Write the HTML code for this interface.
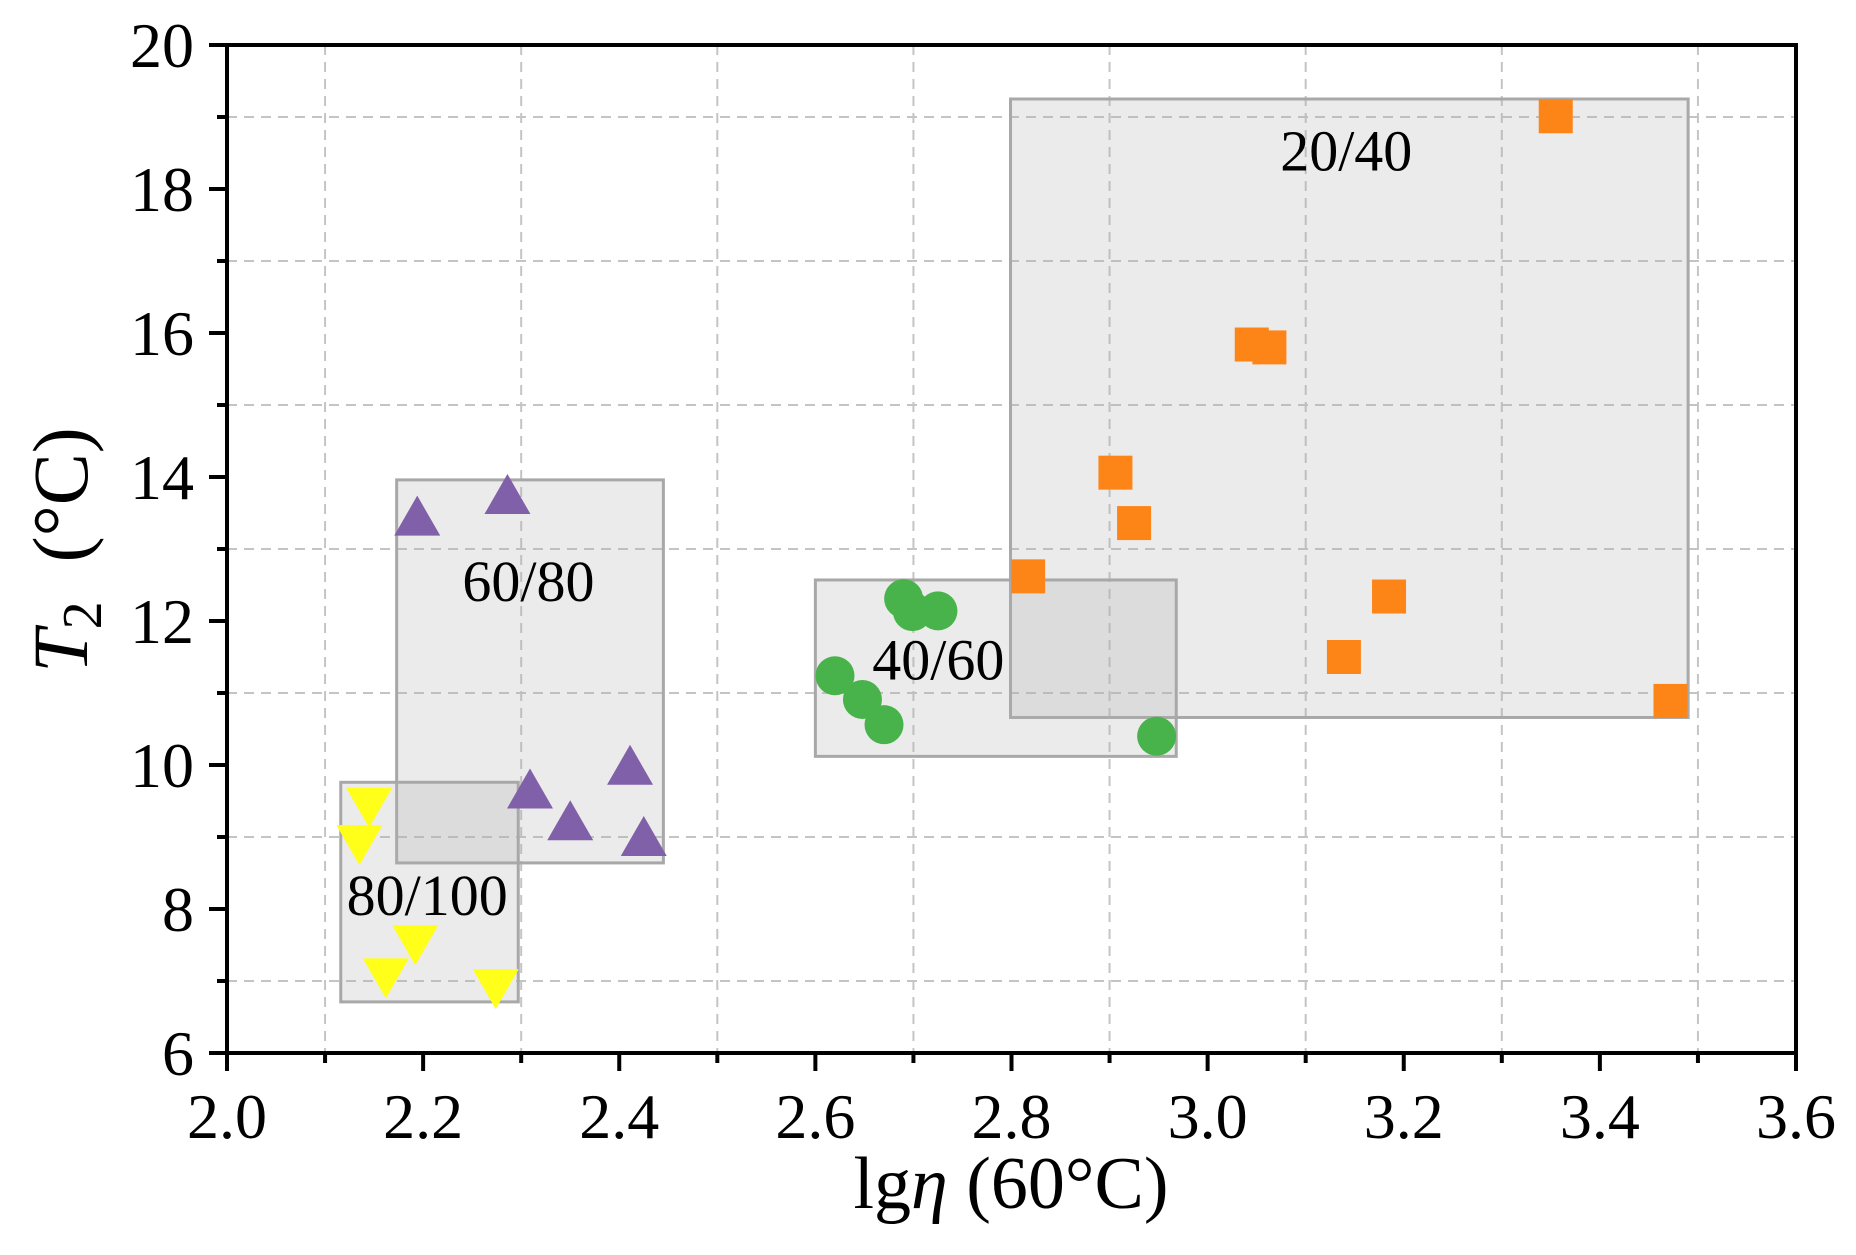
<!DOCTYPE html>
<html><head><meta charset="utf-8"><style>
html,body{margin:0;padding:0;background:#fff;}
svg, svg text{font-family:"Liberation Serif","Times New Roman",Times,serif;}
</style></head><body>
<svg id="chart" width="1856" height="1250" viewBox="0 0 1856 1250" xmlns="http://www.w3.org/2000/svg" font-family="Liberation Serif, Times New Roman, serif">
<rect x="0" y="0" width="1856" height="1250" fill="#fff"/>
<g id="grid"></g>
<g id="boxes"></g>
<g id="marks"></g>
<g id="labels"></g>
<g id="axes"></g>
<text x="1011" y="1208" font-size="74" text-anchor="middle">lg<tspan font-style="italic">η</tspan> (60°C)</text>
<text transform="translate(87,550) rotate(-90)" font-size="78" text-anchor="middle"><tspan font-style="italic">T</tspan><tspan font-size="56" dy="14">2</tspan><tspan dy="-14" xml:space="preserve">  (°C)</tspan></text>
</svg>
<script>
const xTicks = [2.0, 2.2, 2.4, 2.6, 2.8, 3.0, 3.2, 3.4, 3.6];
const xTickLabels = ["2.0","2.2","2.4","2.6","2.8","3.0","3.2","3.4","3.6"];
const yTicks = [6, 8, 10, 12, 14, 16, 18, 20];
const yTickLabels = ["6","8","10","12","14","16","18","20"];
const xGrid = [2.1, 2.3, 2.5, 2.7, 2.9, 3.1, 3.3, 3.5];
const yGrid = [7, 9, 11, 13, 15, 17, 19];

const orangeX = [2.817, 2.906, 2.925, 3.045, 3.063, 3.139, 3.185, 3.355, 3.472];
const orangeY = [12.62, 14.06, 13.36, 15.84, 15.80, 11.50, 12.34, 19.01, 10.89];
const greenX = [2.620, 2.648, 2.670, 2.690, 2.699, 2.725, 2.948];
const greenY = [11.24, 10.91, 10.56, 12.31, 12.13, 12.14, 10.40];
const purpleX = [2.194, 2.286, 2.309, 2.350, 2.411, 2.425];
const purpleY = [13.38, 13.68, 9.59, 9.15, 9.92, 8.93];
const yellowX = [2.145, 2.135, 2.192, 2.162, 2.274];
const yellowY = [9.49, 8.97, 7.58, 7.12, 6.97];

const boxNames = ["20/40", "40/60", "60/80", "80/100"];
const boxX0 = [2.799, 2.600, 2.173, 2.116];
const boxX1 = [3.490, 2.968, 2.445, 2.297];
const boxY0 = [10.66, 10.12, 8.64, 6.71];
const boxY1 = [19.25, 12.57, 13.96, 9.76];
const labelX = [3.074, 2.658, 2.240, 2.122];
const labelY = [18.26, 11.19, 12.28, 7.92];

const L=227, R=1796, T=45, B=1053;
const xMin=2.0, xMax=3.6, yMin=6, yMax=20;
function sx(v){return L+(v-xMin)/(xMax-xMin)*(R-L);}
function sy(v){return B-(v-yMin)/(yMax-yMin)*(B-T);}
const NS="http://www.w3.org/2000/svg";
function mk(tag, parent, attrs){const e=document.createElementNS(NS,tag);for(const k in attrs)e.setAttribute(k,attrs[k]);parent.appendChild(e);return e;}

const grid=document.getElementById('grid');
xGrid.forEach(v=>{
  const l=mk('line',grid,{x1:sx(v),x2:sx(v),y1:T,y2:B,stroke:'#c4c4c4','stroke-width':2,'stroke-dasharray':'10,7'});
  
  
});
yGrid.forEach(v=>{
  const l=mk('line',grid,{x1:L,x2:R,y1:sy(v),y2:sy(v),stroke:'#c4c4c4','stroke-width':2,'stroke-dasharray':'10,7'});
  
  
});

const boxes=document.getElementById('boxes');
boxNames.forEach((n,i)=>{
  const r=mk('rect',boxes,{x:sx(boxX0[i]),y:sy(boxY1[i]),width:sx(boxX1[i])-sx(boxX0[i]),height:sy(boxY0[i])-sy(boxY1[i]),fill:'rgba(175,175,175,0.25)',stroke:'#a8a8a8','stroke-width':3});
  
  
});

const marks=document.getElementById('marks');
orangeX.forEach((x,i)=>{
  const cx=sx(x), cy=sy(orangeY[i]);
  const s=mk('rect',marks,{x:cx-17,y:cy-17,width:34,height:34,fill:'#fd8518'});
  
  
});
greenX.forEach((x,i)=>{
  const c=mk('circle',marks,{cx:sx(x),cy:sy(greenY[i]),r:19.5,fill:'#47b34a'});
  
  
});
purpleX.forEach((x,i)=>{
  const cx=sx(x), cy=sy(purpleY[i]);
  const p=mk('polygon',marks,{points:`${cx},${cy-26} ${cx-23},${cy+14} ${cx+23},${cy+14}`,fill:'#8060a8'});
  
  
});
yellowX.forEach((x,i)=>{
  const cx=sx(x), cy=sy(yellowY[i]);
  const p=mk('polygon',marks,{points:`${cx},${cy+26} ${cx-23},${cy-14} ${cx+23},${cy-14}`,fill:'#ffff1a'});
  
  
});

const labels=document.getElementById('labels');
boxNames.forEach((n,i)=>{
  const t=mk('text',labels,{x:sx(labelX[i]),y:sy(labelY[i]),'font-size':58,fill:'#000'});
  t.textContent=n;
  
  
});

const axes=document.getElementById('axes');
xTicks.forEach((v,i)=>{
  const l=mk('line',axes,{x1:sx(v),x2:sx(v),y1:B,y2:B+18,stroke:'#000','stroke-width':4});
  
  
  const t=mk('text',axes,{x:sx(v),y:1138,'font-size':64,'text-anchor':'middle'});
  t.textContent=xTickLabels[i];
  
  
});
xGrid.forEach(v=>{
  const l=mk('line',axes,{x1:sx(v),x2:sx(v),y1:B,y2:B+10,stroke:'#000','stroke-width':4});
  
  
});
yTicks.forEach((v,i)=>{
  const l=mk('line',axes,{x1:L-18,x2:L,y1:sy(v),y2:sy(v),stroke:'#000','stroke-width':4});
  
  
  const t=mk('text',axes,{x:194,y:sy(v)+22,'font-size':64,'text-anchor':'end'});
  t.textContent=yTickLabels[i];
  
  
});
yGrid.forEach(v=>{
  const l=mk('line',axes,{x1:L-10,x2:L,y1:sy(v),y2:sy(v),stroke:'#000','stroke-width':4});
  
  
});
const frame=mk('rect',axes,{x:L,y:T,width:R-L,height:B-T,fill:'none',stroke:'#000','stroke-width':4});


</script>
</body></html>
